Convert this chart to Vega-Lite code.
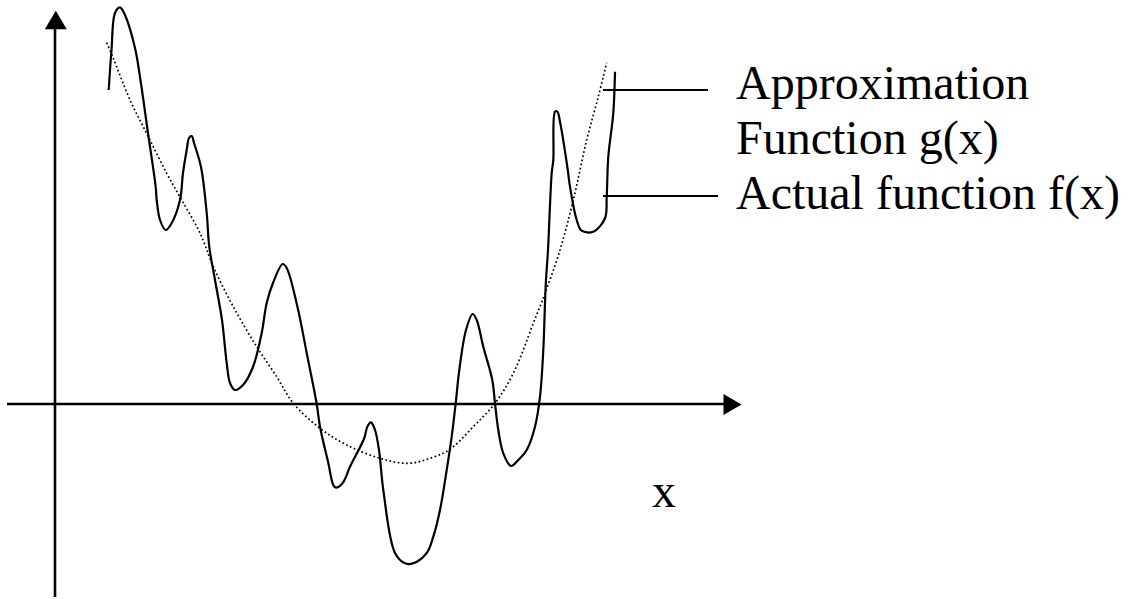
{
  "$schema": "https://vega.github.io/schema/vega-lite/v6.json",
  "width": 1131,
  "height": 599,
  "autosize": {"type": "fit", "contains": "padding"},
  "padding": 0,
  "background": "white",
  "config": {"view": {"stroke": null}},
  "datasets": {
    "axes": [
      {"x": -48, "x2": 669, "y": 0, "y2": 0},
      {"x": 0, "x2": 0, "y": 375, "y2": -193}
    ],
    "leaders": [
      {"x": 548, "x2": 653, "y": 314, "y2": 314},
      {"x": 548, "x2": 663, "y": 208, "y2": 208}
    ],
    "uparrow": [{"x": 0.8, "y": 384}],
    "rightarrow": [{"x": 677.5, "y": -0.5}],
    "f": [
      {"i": 1, "x": 53.7, "y": 314},
      {"i": 2, "x": 56.5, "y": 354},
      {"i": 3, "x": 60, "y": 391},
      {"i": 4, "x": 65, "y": 396.7},
      {"i": 5, "x": 70, "y": 389},
      {"i": 6, "x": 80, "y": 356},
      {"i": 7, "x": 85, "y": 327},
      {"i": 8, "x": 93, "y": 271},
      {"i": 9, "x": 100.7, "y": 217},
      {"i": 10, "x": 101.7, "y": 204},
      {"i": 11, "x": 105, "y": 184},
      {"i": 12, "x": 110.7, "y": 174},
      {"i": 13, "x": 116.7, "y": 181},
      {"i": 14, "x": 125, "y": 204},
      {"i": 15, "x": 128, "y": 231},
      {"i": 16, "x": 131.7, "y": 254},
      {"i": 17, "x": 134, "y": 266},
      {"i": 18, "x": 136.7, "y": 268},
      {"i": 19, "x": 139, "y": 261},
      {"i": 20, "x": 146, "y": 237},
      {"i": 21, "x": 151.7, "y": 191},
      {"i": 22, "x": 154.3, "y": 157},
      {"i": 23, "x": 160, "y": 124},
      {"i": 24, "x": 167, "y": 84},
      {"i": 25, "x": 171.7, "y": 41},
      {"i": 26, "x": 175, "y": 21},
      {"i": 27, "x": 180, "y": 14},
      {"i": 28, "x": 188, "y": 19},
      {"i": 29, "x": 198, "y": 37},
      {"i": 30, "x": 206.7, "y": 71},
      {"i": 31, "x": 211.7, "y": 101},
      {"i": 32, "x": 218, "y": 121},
      {"i": 33, "x": 227.7, "y": 140},
      {"i": 34, "x": 231.7, "y": 136},
      {"i": 35, "x": 242.7, "y": 96},
      {"i": 36, "x": 251.7, "y": 51},
      {"i": 37, "x": 261.7, "y": 0},
      {"i": 38, "x": 265, "y": -22.7},
      {"i": 39, "x": 273.3, "y": -59},
      {"i": 40, "x": 278.3, "y": -81},
      {"i": 41, "x": 281, "y": -83.7},
      {"i": 42, "x": 287.7, "y": -79},
      {"i": 43, "x": 295, "y": -62.7},
      {"i": 44, "x": 309.3, "y": -34},
      {"i": 45, "x": 312.3, "y": -22.7},
      {"i": 46, "x": 316, "y": -18.3},
      {"i": 47, "x": 320, "y": -26},
      {"i": 48, "x": 324, "y": -46},
      {"i": 49, "x": 328.3, "y": -86},
      {"i": 50, "x": 340, "y": -149},
      {"i": 51, "x": 350, "y": -159.3},
      {"i": 52, "x": 358.3, "y": -159.3},
      {"i": 53, "x": 371.7, "y": -149},
      {"i": 54, "x": 378.3, "y": -132.7},
      {"i": 55, "x": 385, "y": -106},
      {"i": 56, "x": 391.7, "y": -66},
      {"i": 57, "x": 396.7, "y": -32.7},
      {"i": 58, "x": 400.7, "y": 0.7},
      {"i": 59, "x": 404.3, "y": 34},
      {"i": 60, "x": 411, "y": 74},
      {"i": 61, "x": 417.7, "y": 90},
      {"i": 62, "x": 421.7, "y": 84},
      {"i": 63, "x": 428.3, "y": 57.3},
      {"i": 64, "x": 437.3, "y": 24},
      {"i": 65, "x": 440, "y": 0.7},
      {"i": 66, "x": 443.3, "y": -26},
      {"i": 67, "x": 448.3, "y": -49.3},
      {"i": 68, "x": 456, "y": -62},
      {"i": 69, "x": 463.3, "y": -56},
      {"i": 70, "x": 471.7, "y": -46},
      {"i": 71, "x": 480, "y": -22.7},
      {"i": 72, "x": 485, "y": 7.3},
      {"i": 73, "x": 488.3, "y": 54},
      {"i": 74, "x": 490, "y": 101},
      {"i": 75, "x": 491, "y": 124},
      {"i": 76, "x": 493, "y": 154},
      {"i": 77, "x": 496.7, "y": 231},
      {"i": 78, "x": 498.3, "y": 244},
      {"i": 79, "x": 500, "y": 292.3},
      {"i": 80, "x": 502.3, "y": 292.3},
      {"i": 81, "x": 505, "y": 282.3},
      {"i": 82, "x": 512.3, "y": 237.3},
      {"i": 83, "x": 515, "y": 217.3},
      {"i": 84, "x": 521.7, "y": 184},
      {"i": 85, "x": 526.7, "y": 173.3},
      {"i": 86, "x": 538.3, "y": 172.3},
      {"i": 87, "x": 550, "y": 185.7},
      {"i": 88, "x": 551.7, "y": 207.3},
      {"i": 89, "x": 553.3, "y": 247.3},
      {"i": 90, "x": 558.3, "y": 291},
      {"i": 91, "x": 560, "y": 332.3}
    ],
    "g": [
      {"i": 1, "x": 51.7, "y": 361.3},
      {"i": 2, "x": 58.3, "y": 345.7},
      {"i": 3, "x": 75, "y": 304},
      {"i": 4, "x": 93.3, "y": 267.3},
      {"i": 5, "x": 111.7, "y": 230.7},
      {"i": 6, "x": 126.7, "y": 204},
      {"i": 7, "x": 145, "y": 171},
      {"i": 8, "x": 158.3, "y": 137.3},
      {"i": 9, "x": 178.3, "y": 97.3},
      {"i": 10, "x": 201.7, "y": 57.3},
      {"i": 11, "x": 221.7, "y": 27.3},
      {"i": 12, "x": 238.3, "y": 0.7},
      {"i": 13, "x": 265, "y": -24.3},
      {"i": 14, "x": 291.7, "y": -41},
      {"i": 15, "x": 325, "y": -54.3},
      {"i": 16, "x": 353.3, "y": -59.3},
      {"i": 17, "x": 375, "y": -54.3},
      {"i": 18, "x": 395, "y": -45.3},
      {"i": 19, "x": 418.3, "y": -22.7},
      {"i": 20, "x": 440, "y": 0.7},
      {"i": 21, "x": 458.3, "y": 30.7},
      {"i": 22, "x": 478.3, "y": 80.7},
      {"i": 23, "x": 490, "y": 110.7},
      {"i": 24, "x": 505, "y": 154},
      {"i": 25, "x": 518.3, "y": 204},
      {"i": 26, "x": 531.7, "y": 264},
      {"i": 27, "x": 543.3, "y": 307.3},
      {"i": 28, "x": 551.7, "y": 341.3}
    ],
    "labels": [
      {"x": 681, "y": 305, "text": "Approximation"},
      {"x": 681, "y": 250, "text": "Function g(x)"},
      {"x": 681, "y": 195, "text": "Actual function f(x)"},
      {"x": 597, "y": -103, "text": "x"}
    ]
  },
  "layer": [
    {
      "data": {"name": "axes"},
      "mark": {"type": "rule", "color": "black", "strokeWidth": 2.6},
      "encoding": {
        "x": {"field": "x", "type": "quantitative", "scale": {"domain": [-55, 1076], "nice": false, "zero": false}, "axis": null},
        "x2": {"field": "x2"},
        "y": {"field": "y", "type": "quantitative", "scale": {"domain": [-195, 404], "nice": false, "zero": false}, "axis": null},
        "y2": {"field": "y2"}
      }
    },
    {
      "data": {"name": "leaders"},
      "mark": {"type": "rule", "color": "black", "strokeWidth": 2},
      "encoding": {
        "x": {"field": "x", "type": "quantitative"},
        "x2": {"field": "x2"},
        "y": {"field": "y", "type": "quantitative"},
        "y2": {"field": "y2"}
      }
    },
    {
      "data": {"name": "uparrow"},
      "mark": {"type": "point", "shape": "M0,-0.85L1,0.85L-1,0.85Z", "size": 484, "filled": true, "color": "black", "opacity": 1, "strokeWidth": 0},
      "encoding": {
        "x": {"field": "x", "type": "quantitative"},
        "y": {"field": "y", "type": "quantitative"}
      }
    },
    {
      "data": {"name": "rightarrow"},
      "mark": {"type": "point", "shape": "M0.86,0L-0.86,-1L-0.86,1Z", "size": 441, "filled": true, "color": "black", "opacity": 1, "strokeWidth": 0},
      "encoding": {
        "x": {"field": "x", "type": "quantitative"},
        "y": {"field": "y", "type": "quantitative"}
      }
    },
    {
      "data": {"name": "g"},
      "mark": {"type": "line", "color": "black", "strokeWidth": 1.7, "strokeDash": [1.7, 2.5], "interpolate": "catmull-rom"},
      "encoding": {
        "x": {"field": "x", "type": "quantitative"},
        "y": {"field": "y", "type": "quantitative"},
        "order": {"field": "i", "type": "quantitative"}
      }
    },
    {
      "data": {"name": "f"},
      "mark": {"type": "line", "color": "black", "strokeWidth": 2.2, "interpolate": "catmull-rom"},
      "encoding": {
        "x": {"field": "x", "type": "quantitative"},
        "y": {"field": "y", "type": "quantitative"},
        "order": {"field": "i", "type": "quantitative"}
      }
    },
    {
      "data": {"name": "labels"},
      "mark": {"type": "text", "font": "Liberation Serif", "fontSize": 48, "align": "left", "baseline": "alphabetic", "color": "black"},
      "encoding": {
        "x": {"field": "x", "type": "quantitative"},
        "y": {"field": "y", "type": "quantitative"},
        "text": {"field": "text"}
      }
    }
  ]
}
